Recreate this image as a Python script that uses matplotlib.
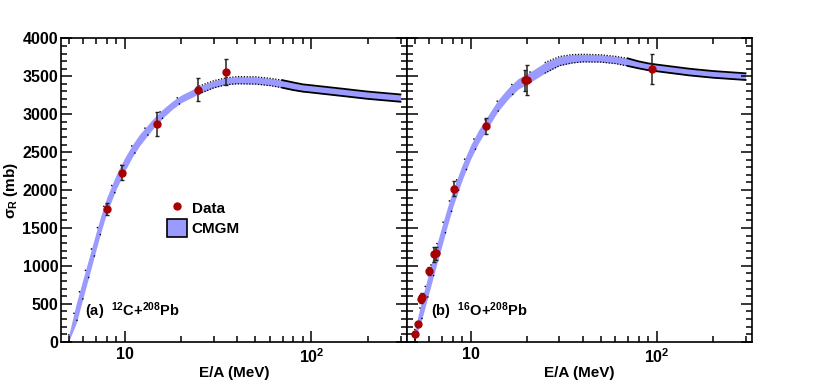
import matplotlib
matplotlib.use("Agg")
import matplotlib.pyplot as plt
import numpy as np
from matplotlib.lines import Line2D
from matplotlib.patches import Patch
from matplotlib.ticker import FixedLocator, NullFormatter

plt.rcParams['font.family'] = ['Liberation Sans', 'DejaVu Sans']
plt.rcParams['font.weight'] = 'bold'
plt.rcParams['mathtext.default'] = 'regular'

# --- (a) 12C + 208Pb ---
e_band = [5.0, 5.5, 6.0, 6.5, 7.0, 7.5, 8.0, 9.0, 10, 11, 12, 14, 16, 18, 20, 25,
          30, 35, 40, 50, 60, 70, 80, 90, 100, 150, 200, 300]
a_low = [0, 250, 595, 910, 1205, 1470, 1700, 2015, 2252, 2440, 2585, 2795, 2952, 3067,
         3150, 3270, 3348, 3390, 3401, 3397, 3377, 3348, 3318, 3297, 3285, 3237, 3202, 3164]
a_up = [80, 510, 845, 1150, 1435, 1690, 1900, 2205, 2428, 2600, 2735, 2925, 3068, 3173,
        3250, 3370, 3442, 3480, 3495, 3493, 3473, 3448, 3418, 3393, 3381, 3333, 3298, 3260]
a_e = [8.0, 9.6, 14.9, 24.8, 34.7]
a_sig = [1750, 2228, 2868, 3325, 3555]
a_err = [80, 100, 160, 150, 175]

# --- (b) 16O + 208Pb ---
b_low = [20, 320, 665, 980, 1262, 1530, 1768, 2130, 2408, 2615, 2770, 3035, 3208, 3330,
         3392, 3540, 3640, 3675, 3690, 3687, 3667, 3635, 3604, 3580, 3566, 3511, 3481, 3451]
b_up = [150, 580, 935, 1240, 1518, 1770, 1992, 2330, 2592, 2785, 2930, 3185, 3352, 3470,
        3528, 3680, 3760, 3785, 3790, 3783, 3763, 3735, 3696, 3670, 3654, 3599, 3569, 3539]
b_e = [5.0, 5.2, 5.4, 5.5, 6.0, 6.33, 6.48, 8.09, 12.05, 19.5, 20.0, 94.6]
b_sig = [97, 233, 560, 590, 932, 1151, 1165, 2018, 2844, 3446, 3455, 3596]
b_err = [0, 0, 50, 50, 50, 100, 90, 100, 100, 140, 200, 204]

band_col = '#9a9aff'
pt_col = '#a80000'

W, H = 814, 389
fig = plt.figure(figsize=(W / 100, H / 100), dpi=100)
bot = (H - 341.67) / H
hgt = 303.33 / H
ax1 = fig.add_axes([61 / W, bot, 346 / W, hgt])
ax2 = fig.add_axes([407 / W, bot, 345 / W, hgt])


def draw(ax, low, up, e, sig, err, label):
    ax.fill_between(e_band, low, up, color=band_col, lw=0, zorder=1)
    i25 = e_band.index(25)
    i70 = e_band.index(70)
    for c in (low, up):
        ax.plot(e_band[:i25 + 1], c[:i25 + 1], color='black', lw=1.0,
                ls=(0, (1, 15)), zorder=2)
        ax.plot(e_band[i25:i70 + 1], c[i25:i70 + 1], color='black', lw=0.9,
                ls=(0, (1, 1.3)), zorder=2)
        ax.plot(e_band[i70:], c[i70:], color='black', lw=1.3, zorder=2)
    ax.errorbar(e, sig, yerr=err, fmt='o', color=pt_col, ms=5, ecolor='#222222',
                elinewidth=1.1, capsize=1.6, capthick=1.0, zorder=3)
    ax.set_xscale('log')
    ax.set_xlim(4.55, 325)
    ax.set_ylim(0, 4000)
    ax.set_xticks([10, 100])
    ax.set_xticklabels(['10', r'$10^{2}$'])
    ax.xaxis.set_minor_locator(FixedLocator([5, 6, 7, 8, 9, 20, 30, 40, 50, 60, 70,
                                             80, 90, 200, 300]))
    ax.xaxis.set_minor_formatter(NullFormatter())
    ax.set_yticks(np.arange(0, 4001, 500))
    ax.set_yticks(np.arange(0, 4001, 100), minor=True)
    ax.tick_params(which='both', direction='in', top=True, right=True, width=1.1,
                   labelsize=11.5, pad=2)
    ax.tick_params(which='major', length=8)
    ax.tick_params(which='minor', length=4.5)
    ax.tick_params(axis='x', which='major', pad=4)
    for s in ax.spines.values():
        s.set_linewidth(1.2)
    ax.set_xlabel('E/A (MeV)', fontsize=11, fontweight='bold', labelpad=0)
    ax.text(0.07, 0.10, label, transform=ax.transAxes, fontsize=10.5,
            fontweight='bold', va='center', ha='left')


draw(ax1, a_low, a_up, a_e, a_sig, a_err, r'(a)  $^{12}$C+$^{208}$Pb')
draw(ax2, b_low, b_up, b_e, b_sig, b_err, r'(b)  $^{16}$O+$^{208}$Pb')
ax2.set_yticklabels([])

ax1.set_ylabel(r'$\mathregular{σ_R}$ (mb)', fontsize=11, fontweight='bold')
ax1.yaxis.set_label_coords(-0.118, 0.5)

handles = [Line2D([], [], marker='o', ls='none', color=pt_col, ms=5),
           Patch(facecolor=band_col, edgecolor='black', lw=1.2)]
ax1.legend(handles, ['Data', 'CMGM'], loc='upper left', bbox_to_anchor=(0.283, 0.495),
           frameon=False, handlelength=1.35, handleheight=1.35,
           handletextpad=0.3, labelspacing=0.2, borderpad=0,
           prop={'weight': 'bold', 'size': 11})

fig.savefig('out.png', dpi=100)
